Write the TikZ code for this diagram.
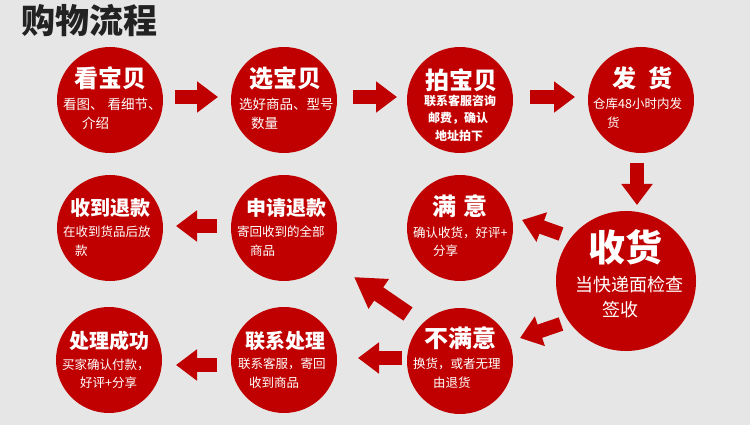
\documentclass[tikz,border=0pt]{standalone}
\usepackage{fontspec}
\setmainfont{Noto Sans CJK SC}
\newfontfamily\cjk{Noto Sans CJK SC}
\usetikzlibrary{arrows.meta}
\definecolor{bg}{HTML}{E6E6E6}
\definecolor{myred}{HTML}{C00000}
\definecolor{titlecol}{HTML}{222222}
\tikzset{
  ball/.style={circle, fill=myred, draw=none, inner sep=0pt, minimum size=106pt},
  bigball/.style={ball, minimum size=140pt},
  ttl/.style={text=white, inner sep=0pt, font=\cjk\bfseries\fontsize{24}{24}\selectfont},
  ttls/.style={text=white, inner sep=0pt, font=\cjk\bfseries\fontsize{20}{20}\selectfont},
  ttlb/.style={text=white, inner sep=0pt, font=\cjk\bfseries\fontsize{37}{37}\selectfont},
  sub/.style={text=white, anchor=west, inner sep=0pt, font=\cjk\fontsize{12.5}{12.5}\selectfont},
  subl/.style={text=white, anchor=west, inner sep=0pt, font=\cjk\fontsize{13.5}{13.5}\selectfont},
  subb/.style={text=white, anchor=west, inner sep=0pt, font=\cjk\bfseries\fontsize{12}{12}\selectfont},
  subbig/.style={text=white, anchor=west, inner sep=0pt, font=\cjk\fontsize{18}{18}\selectfont},
  barrow/.style={draw=myred, line width=14pt, -{Triangle[length=21pt,width=30pt]}},
  bigarrow/.style={draw=myred, line width=16pt, -{Triangle[length=30pt,width=34pt]}}
}
\begin{document}
\begin{tikzpicture}[x=1pt,y=-1pt]
\fill[bg] (0,0) rectangle (750,425);
\useasboundingbox (0,0) rectangle (750,425);

\node[text=titlecol, inner sep=0pt, font=\cjk\bfseries\fontsize{34}{34}\selectfont] (title) at (89,21) {购物流程};

% circles
\node[ball] (c1) at (110,100) {};
\node[ball] (c2) at (284,100) {};
\node[ball] (c3) at (460,100) {};
\node[ball] (c4) at (641,100) {};
\node[ball] (c5) at (110,228) {};
\node[ball] (c6) at (284,228) {};
\node[ball] (c7) at (460,228) {};
\node[bigball] (c8) at (626,281) {};
\node[ball] (c9) at (109,360) {};
\node[ball] (c10) at (284,360) {};
\node[ball] (c11) at (460,361) {};

% texts
\node[ttl] (t1) at (110,78) {看宝贝};
\node[subl] (s1a) at (63,104) {看图、\hspace{4pt}看细节、};
\node[subl] (s1b) at (82,123) {介绍};

\node[ttl] (t2) at (285,78) {选宝贝};
\node[subl] (s2a) at (239,104) {选好商品、型号};
\node[subl] (s2b) at (251,123) {数量};

\node[ttl] (t3) at (461,80) {拍宝贝};
\node[subb] (s3a) at (424,101) {联系客服咨询};
\node[subb] (s3b) at (428,118) {邮费，确认};
\node[subb] (s3c) at (435,136) {地址拍下};

\node[ttl] (t4) at (642,78) {发\hspace{12pt}货};
\node[sub] (s4a) at (593,104) {仓库48小时内发};
\node[sub] (s4b) at (607,123) {货};

\node[ttls] (t5) at (110,208) {收到退款};
\node[sub] (s5a) at (63,232) {在收到货品后放};
\node[sub] (s5b) at (75,251) {款};

\node[ttls] (t6) at (286,208) {申请退款};
\node[sub] (s6a) at (237,232) {寄回收到的全部};
\node[sub] (s6b) at (250,251) {商品};

\node[ttl] (t7) at (460,206) {满\hspace{8pt}意};
\node[sub] (s7a) at (413,233) {确认收货，好评+};
\node[sub] (s7b) at (433,251) {分享};

\node[ttlb] (t8) at (625,247) {收货};
\node[subbig] (s8a) at (575,285) {当快递面检查};
\node[subbig] (s8b) at (602,310) {签收};

\node[ttls] (t9) at (109,341) {处理成功};
\node[sub] (s9a) at (62,365) {买家确认付款，};
\node[sub] (s9b) at (80,383) {好评+分享};

\node[ttls] (t10) at (285,341) {联系处理};
\node[sub] (s10a) at (238,364) {联系客服，寄回};
\node[sub] (s10b) at (249,383) {收到商品};

\node[ttl] (t11) at (460,338) {不满意};
\node[sub] (s11a) at (413,364) {换货，或者无理};
\node[sub] (s11b) at (433,383) {由退货};

% arrow endpoints
\coordinate (a1s) at (175,97);  \coordinate (a1e) at (218,97);
\coordinate (a2s) at (353,97);  \coordinate (a2e) at (397,97);
\coordinate (a3s) at (530,97);  \coordinate (a3e) at (575,97);
\coordinate (a4s) at (637,163); \coordinate (a4e) at (637,205);
\coordinate (a5s) at (561,234); \coordinate (a5e) at (522,220);
\coordinate (a6s) at (408,314); \coordinate (a6e) at (354,277);
\coordinate (a7s) at (217,226); \coordinate (a7e) at (176,226);
\coordinate (a8s) at (561,324); \coordinate (a8e) at (520,338);
\coordinate (a9s) at (402,358); \coordinate (a9e) at (358,358);
\coordinate (a10s) at (217,365); \coordinate (a10e) at (176,365);

\draw[barrow] (a1s) -- (a1e);
\draw[barrow] (a2s) -- (a2e);
\draw[barrow] (a3s) -- (a3e);
\draw[barrow] (a4s) -- (a4e);
\draw[barrow] (a5s) -- (a5e);
\draw[bigarrow] (a6s) -- (a6e);
\draw[barrow] (a7s) -- (a7e);
\draw[barrow] (a8s) -- (a8e);
\draw[barrow] (a9s) -- (a9e);
\draw[barrow] (a10s) -- (a10e);
\end{tikzpicture}
\end{document}
